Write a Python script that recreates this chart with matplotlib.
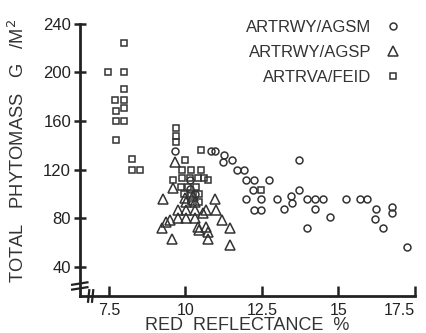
import matplotlib
matplotlib.use("Agg")
import matplotlib.pyplot as plt

plt.rcParams['font.family'] = ['Liberation Sans', 'DejaVu Sans']

# ARTRWY/AGSM (circles)
agsm_x = [9.65, 10.84, 10.14, 10.14, 10.3, 10.97, 11.25, 11.22, 11.51, 11.7, 11.92, 11.98,
          12.23, 12.74, 12.2, 11.98, 12.47, 12.23, 12.47, 12.99, 13.22, 13.46, 13.5, 13.71,
          13.7, 13.98, 14.23, 14.5, 14.23, 13.96, 14.74, 15.25, 15.69, 15.95, 16.22, 16.2,
          16.47, 16.76, 16.76, 17.23]
agsm_y = [135, 135.5, 111, 104, 100, 135.5, 132, 126.5, 128, 119.6, 119.6, 111.3,
          111.3, 111.3, 103, 95.4, 95.4, 86.6, 86.6, 95.4, 87.4, 98, 92, 103,
          128, 95.4, 95.4, 95.4, 87.4, 71.5, 80.6, 95.4, 95.4, 95.4, 87.4, 79.2,
          71.5, 89.3, 84, 56.3]

# ARTRWY/AGSP (triangles)
agsp_x = [9.65, 9.27, 9.6, 9.22, 9.55, 9.49, 9.76, 10.03, 10.3, 10.03, 10.3, 9.76, 10.03,
          10.3, 10.57, 10.46, 10.73, 10.73, 10.97, 11.0, 11.2, 11.47, 11.47, 10.68, 10.68,
          9.98, 10.25, 9.38, 10.4]
agsp_y = [126.5, 95.4, 104.5, 71.5, 63, 78, 86.6, 86.6, 86.6, 93.4, 93.4, 79.8, 79.8,
          79.8, 83.9, 70, 68.7, 63, 95.4, 86.6, 78.4, 71.5, 57.7, 86.6, 73,
          96.2, 98, 77, 73]

# ARTRVA/FEID (squares)
feid_x = [7.98, 7.46, 7.98, 7.98, 7.7, 7.98, 7.98, 7.73, 7.73, 7.98, 7.73, 8.27, 8.27, 8.52,
          9.7, 9.7, 9.7, 10.5, 10.0, 9.6, 9.9, 10.2, 10.5, 9.9, 10.15, 10.4, 10.6, 9.85,
          10.1, 10.35, 9.95, 10.2, 10.45, 10.2, 10.45, 10.75, 12.47]
feid_y = [224, 200, 200, 186, 177, 177, 171, 168, 160, 160, 144, 129, 120, 120,
          154, 148, 143, 136, 128, 111, 120, 120, 120, 113, 113, 113, 113, 106,
          106, 106, 100, 100, 100, 93, 93, 111, 103]

xticks = [7.5, 10, 12.5, 15, 17.5]
xticklabels = ['7.5', '10', '12.5', '15', '17.5']
yticks = [40, 80, 120, 160, 200, 240]

fig = plt.figure(figsize=(4.26, 3.33), dpi=100)
ax = fig.add_axes([0.188, 0.111, 0.786, 0.817])
ax.set_xlim(6.56, 17.5)
ax.set_ylim(15.7, 240)

col = '#333333'
ax.plot(agsm_x, agsm_y, 'o', ms=5, mfc='none', mec=col, mew=1.1, ls='none',
        label='ARTRWY/AGSM', clip_on=False)
ax.plot(agsp_x, agsp_y, '^', ms=6.8, mfc='none', mec=col, mew=1.1, ls='none',
        label='ARTRWY/AGSP', clip_on=False)
ax.plot(feid_x, feid_y, 's', ms=5, mfc='none', mec=col, mew=1.1, ls='none',
        label='ARTRVA/FEID', clip_on=False)

for s in ['top', 'right']:
    ax.spines[s].set_visible(False)
for s in ['left', 'bottom']:
    ax.spines[s].set_linewidth(2)
    ax.spines[s].set_color('#222222')

ax.set_xticks(xticks)
ax.set_xticklabels(xticklabels)
ax.set_yticks(yticks)
ax.tick_params(axis='x', direction='in', length=7, width=1.8, labelsize=11.5, pad=5,
               colors='#222222')
ax.tick_params(axis='y', direction='inout', length=9, width=1.8, labelsize=12, pad=2,
               colors='#222222')
for lab in ax.get_xticklabels():
    if lab.get_text() == '17.5':
        lab.set_horizontalalignment('right')
        lab.set_x(17.5)

# axis break marks
ax.plot([6.3, 6.8], [25, 27], color='#222222', lw=1.6, clip_on=False)
ax.plot([6.3, 6.8], [21, 23], color='#222222', lw=1.6, clip_on=False)
ax.plot([6.82, 6.86], [11, 20.5], color='#222222', lw=1.6, clip_on=False)
ax.plot([6.95, 6.99], [11, 20.5], color='#222222', lw=1.6, clip_on=False)

ax.set_xlabel('RED  REFLECTANCE  %', fontsize=13, color='#333333', labelpad=-1)
ax.set_ylabel('TOTAL   PHYTOMASS   G   /M$^2$', fontsize=13.2, color='#333333')
ax.yaxis.set_label_coords(-0.155, 0.535)

leg = ax.legend(loc='upper right', bbox_to_anchor=(1.0, 1.07), frameon=False,
                markerfirst=False, fontsize=12, handletextpad=0.9,
                labelspacing=0.6, handlelength=0.8)
for t in leg.get_texts():
    t.set_color('#333333')

fig.savefig('out.png', dpi=100)
